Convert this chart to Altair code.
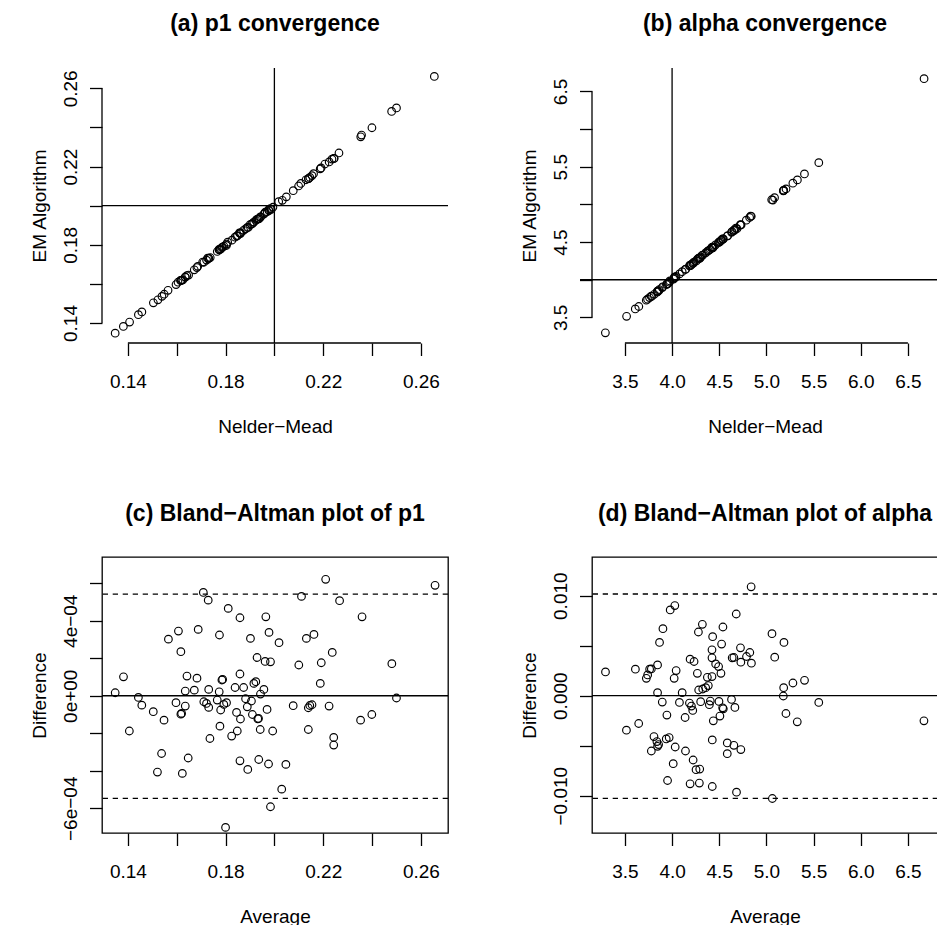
import altair as alt
import pandas as pd

FONT = "Liberation Sans"

# ---------------- data ----------------
# Bland-Altman (c): average and difference of p1 estimates
p1_avg = [0.1348, 0.1382, 0.1406, 0.1443, 0.1457, 0.1504, 0.1538, 0.1521, 0.1548, 0.1566,
          0.1607, 0.1617, 0.1597, 0.1617, 0.1620, 0.1635, 0.1635, 0.1642, 0.1623, 0.1647,
          0.1672, 0.1683, 0.1688, 0.1709, 0.1729, 0.1711, 0.1722, 0.1731, 0.1731, 0.1736,
          0.1766, 0.1774, 0.1775, 0.1777, 0.1780, 0.1785, 0.1788, 0.1793, 0.1804, 0.1811,
          0.1800, 0.1825, 0.1839, 0.1845, 0.1848, 0.1859, 0.1859, 0.1859, 0.1861, 0.1874,
          0.1882, 0.1889, 0.1891, 0.1902, 0.1906, 0.1910, 0.1916, 0.1924, 0.1929, 0.1932,
          0.1935, 0.1936, 0.1942, 0.1943, 0.1957, 0.1962, 0.1965, 0.1970, 0.1976, 0.1978,
          0.1984, 0.1984, 0.1993, 0.2019, 0.2030, 0.2047, 0.2077, 0.2100, 0.2111, 0.2131,
          0.2139, 0.2139, 0.2145, 0.2154, 0.2162, 0.2188, 0.2192, 0.2210, 0.2224, 0.2237,
          0.2243, 0.2243, 0.2267, 0.2353, 0.2359, 0.2399, 0.2481, 0.2500, 0.2658]
p1_diff = [0.16e-4, 1.01e-4, -1.88e-4, -0.09e-4, -0.50e-4, -0.85e-4, -3.08e-4, -4.07e-4, -1.30e-4, 3.02e-4,
           3.45e-4, 2.35e-4, -0.37e-4, -0.98e-4, -0.94e-4, -0.55e-4, 0.25e-4, 1.05e-4, -4.14e-4, -3.32e-4,
           0.30e-4, 0.94e-4, 3.54e-4, 5.51e-4, 5.10e-4, -0.32e-4, -0.41e-4, -0.62e-4, 0.34e-4, -2.28e-4,
           -0.23e-4, 0.21e-4, 3.24e-4, -1.62e-4, -0.76e-4, 0.84e-4, 0.87e-4, -0.46e-4, -0.37e-4, 4.66e-4,
           -7.02e-4, -2.15e-4, 0.44e-4, -0.89e-4, -1.88e-4, 4.16e-4, 1.16e-4, -3.47e-4, -1.24e-4, 0.44e-4,
           -0.16e-4, -0.59e-4, -3.93e-4, 3.06e-4, -0.28e-4, -1.00e-4, 0.66e-4, 0.75e-4, 2.04e-4, -1.23e-4,
           -1.21e-4, -3.40e-4, -1.80e-4, 0.09e-4, 0.34e-4, 1.83e-4, 4.21e-4, -0.73e-4, -3.64e-4, 3.38e-4,
           1.81e-4, -5.92e-4, -1.88e-4, 2.83e-4, -4.98e-4, -3.66e-4, -0.53e-4, 1.64e-4, 5.30e-4, 3.06e-4,
           -0.64e-4, -1.80e-4, -0.52e-4, -0.48e-4, 3.27e-4, 0.66e-4, 1.76e-4, 6.21e-4, -0.55e-4, 2.31e-4,
           -2.22e-4, -2.63e-4, 5.07e-4, -1.30e-4, 4.21e-4, -1.00e-4, 1.71e-4, -0.12e-4, 5.89e-4]

# Bland-Altman (d): average and difference of alpha estimates
alpha_avg = [3.294, 3.516, 3.611, 3.646, 3.727, 3.741, 3.762, 3.780, 3.846, 3.846,
             3.867, 3.896, 3.903, 3.808, 3.780, 3.839, 3.846, 3.857, 3.938, 3.969,
             3.945, 3.980, 4.029, 4.022, 4.043, 4.033, 4.012, 3.952, 4.078, 4.107,
             4.138, 4.142, 4.184, 4.191, 4.191, 4.205, 4.219, 4.223, 4.233, 4.254,
             4.268, 4.279, 4.282, 4.293, 4.289, 4.303, 4.321, 4.325, 4.356, 4.374,
             4.384, 4.395, 4.405, 4.423, 4.426, 4.426, 4.430, 4.423, 4.423, 4.437,
             4.462, 4.493, 4.497, 4.507, 4.518, 4.525, 4.536, 4.539, 4.543, 4.585,
             4.585, 4.630, 4.637, 4.655, 4.666, 4.655, 4.680, 4.683, 4.725, 4.729,
             4.729, 4.789, 4.824, 4.838, 4.841, 5.059, 5.063, 5.088, 5.186, 5.183,
             5.179, 5.207, 5.281, 5.327, 5.404, 5.555, 6.670]
alpha_diff = [2.38e-3, -3.45e-3, 2.65e-3, -2.78e-3, 1.74e-3, 2.08e-3, 2.65e-3, 2.68e-3, 3.08e-3, 0.30e-3,
              5.33e-3, -0.64e-3, 6.70e-3, -4.09e-3, -5.53e-3, -4.59e-3, -5.06e-3, -4.89e-3, -4.32e-3, -4.19e-3,
              -1.94e-3, 8.58e-3, 9.01e-3, 1.74e-3, 2.51e-3, -5.13e-3, -6.80e-3, -8.48e-3, -0.67e-3, 0.30e-3,
              -2.18e-3, -5.53e-3, -0.74e-3, 3.65e-3, -8.81e-3, -1.04e-3, -1.47e-3, -6.43e-3, 3.42e-3, -7.40e-3,
              2.24e-3, 6.37e-3, 0.57e-3, -7.34e-3, -8.74e-3, -0.60e-3, 7.14e-3, 0.67e-3, 0.80e-3, 1.84e-3,
              1.01e-3, -0.90e-3, -0.54e-3, 1.91e-3, -4.42e-3, -9.08e-3, 5.90e-3, 4.59e-3, 3.79e-3, -2.51e-3,
              3.18e-3, 2.91e-3, -0.57e-3, -2.04e-3, 2.24e-3, 5.16e-3, -1.21e-3, 6.87e-3, -1.31e-3, -4.72e-3,
              -5.80e-3, -0.37e-3, 3.79e-3, 3.82e-3, -1.17e-3, -4.96e-3, 8.17e-3, -9.65e-3, 4.79e-3, 3.35e-3,
              -5.39e-3, 3.92e-3, 4.32e-3, 10.89e-3, 3.25e-3, 6.20e-3, -10.28e-3, 3.85e-3, 5.33e-3, 0.80e-3,
              -0.03e-3, -1.78e-3, 1.27e-3, -2.61e-3, 1.54e-3, -0.67e-3, -2.51e-3]

# reference values / limits of agreement
p1_true = 0.20
alpha_true = 4.0
p1_limits = [5.42e-4, -5.47e-4]
alpha_limits = [0.01017, -0.01026]

# axis ticks and labels
p1_ticks = [0.14, 0.16, 0.18, 0.20, 0.22, 0.24, 0.26]
p1_shown = ["0.14", "0.18", "0.22", "0.26"]
alpha_ticks = [3.5, 4.0, 4.5, 5.0, 5.5, 6.0, 6.5]
alpha_y_shown = ["3.5", "4.5", "5.5", "6.5"]
p1_diff_ticks = [-6e-4, -4e-4, -2e-4, 0.0, 2e-4, 4e-4, 6e-4]
alpha_diff_ticks = [-0.010, -0.005, 0.0, 0.005, 0.010]

# scale domains (R style padded ranges)
p1_dom = [0.1294, 0.2711]
p1_em_dom = [0.1298, 0.2704]
alpha_dom = [3.151, 6.819]
alpha_em_dom = [3.160, 6.811]
p1_diff_dom = [-7.32e-4, 7.40e-4]
alpha_diff_dom = [-0.01373, 0.01387]
alpha_hline_start = 3.024

# ---------------- tables ----------------
ba_p1 = pd.DataFrame({"x": p1_avg, "y": p1_diff})
ba_alpha = pd.DataFrame({"x": alpha_avg, "y": alpha_diff})
# convergence plots: Nelder-Mead vs EM, rebuilt from average / difference
conv_p1 = pd.DataFrame({"x": ba_p1.x - ba_p1.y / 2, "y": ba_p1.x + ba_p1.y / 2})
conv_alpha = pd.DataFrame({"x": ba_alpha.x - ba_alpha.y / 2, "y": ba_alpha.x + ba_alpha.y / 2})

W = 346
TICK = 12.5
LW = 1.3


def x_axis(ticks, expr, title):
    return alt.Axis(values=ticks, labelExpr=expr, title=title, domain=False, grid=False,
                    tickSize=TICK, tickWidth=LW, tickColor="black",
                    labelPadding=31.5, labelBaseline="alphabetic", labelAlign="center",
                    labelAngle=0, labelFont=FONT, labelFontSize=19, labelColor="black",
                    labelOverlap=False, labelFlush=False,
                    titleFont=FONT, titleFontSize=19, titleFontWeight="normal",
                    titleColor="black", titleY=89, titleBaseline="alphabetic")


def y_axis(ticks, expr, title, h):
    return alt.Axis(values=ticks, labelExpr=expr, title=title, domain=False, grid=False,
                    tickSize=TICK, tickWidth=LW, tickColor="black",
                    labelPadding=13.5, labelBaseline="alphabetic", labelAlign="center",
                    labelAngle=270, labelFont=FONT, labelFontSize=19, labelColor="black",
                    labelOverlap=False, labelFlush=False,
                    titleFont=FONT, titleFontSize=19, titleFontWeight="normal",
                    titleColor="black", titleAngle=270, titleAlign="center",
                    titleBaseline="alphabetic", titleX=-56.5, titleY=h / 2)


def panel(df, title, xdom, ydom, xticks, yticks, xexpr, yexpr, xtitle, ytitle, h,
          extra, boxed):
    xs = alt.Scale(domain=xdom, nice=False, zero=False)
    ys = alt.Scale(domain=ydom, nice=False, zero=False)
    xe = alt.X("x:Q", scale=xs, axis=x_axis(xticks, xexpr, xtitle))
    ye = alt.Y("y:Q", scale=ys, axis=y_axis(yticks, yexpr, ytitle, h))
    layers = []
    for kind, data, dash in extra:
        base = alt.Chart(pd.DataFrame(data))
        m = dict(color="black", strokeWidth=LW, clip=False)
        if dash:
            m["strokeDash"] = [5.3, 4.7]
        r = base.mark_rule(**m)
        if kind == "h":
            r = r.encode(y=ye)
        elif kind == "v":
            r = r.encode(x=xe)
        elif kind == "hseg":
            r = r.encode(x=xe, x2=alt.X2("x2:Q"), y=ye)
        else:  # vseg
            r = r.encode(y=ye, y2=alt.Y2("y2:Q"), x=xe)
        layers.append(r)
    pts = alt.Chart(df).mark_point(shape="circle", filled=False, size=58, strokeWidth=1.15,
                                   color="black", opacity=1).encode(x=xe, y=ye)
    layers.append(pts)
    view = alt.ViewBackground(stroke="black", strokeWidth=LW) if boxed else \
        alt.ViewBackground(stroke="transparent")
    return alt.layer(*layers).properties(
        width=W, height=h, view=view,
        title=alt.TitleParams(title, font=FONT, fontSize=23, fontWeight="bold",
                              color="black", anchor="middle", frame="group",
                              baseline="alphabetic", offset=13.5))


alpha_x_expr = "format(datum.value, '.1f')"
alpha_y_expr = "indexof(" + str(alpha_y_shown) + ", format(datum.value, '.1f')) >= 0 ? format(datum.value, '.1f') : ''"
p1_fmt_expr = "indexof(" + str(p1_shown) + ", format(datum.value, '.2f')) >= 0 ? format(datum.value, '.2f') : ''"
p1_diff_expr = ("abs(datum.value - 0.0004) < 1e-9 ? '4e\u221204' : abs(datum.value) < 1e-9 ? '0e+00' : "
                "abs(datum.value + 0.0006) < 1e-9 ? '\u22126e\u221204' : ''")
alpha_diff_expr = ("abs(datum.value - 0.01) < 1e-9 ? '0.010' : abs(datum.value) < 1e-9 ? '0.000' : "
                   "abs(datum.value + 0.01) < 1e-9 ? '\u22120.010' : ''")

a = panel(conv_p1, "(a) p1 convergence", p1_dom, p1_em_dom, p1_ticks, p1_ticks,
          p1_fmt_expr, p1_fmt_expr, "Nelder\u2212Mead", "EM Algorithm", 275,
          [("h", {"y": [p1_true]}, False),
           ("v", {"x": [p1_true]}, False),
           ("hseg", {"x": [p1_ticks[0]], "x2": [p1_ticks[-1]], "y": [p1_em_dom[0]]}, False),
           ("vseg", {"y": [p1_ticks[0]], "y2": [p1_ticks[-1]], "x": [p1_dom[0]]}, False)],
          False)

b = panel(conv_alpha, "(b) alpha convergence", alpha_dom, alpha_em_dom, alpha_ticks, alpha_ticks,
          alpha_x_expr, alpha_y_expr, "Nelder\u2212Mead", "EM Algorithm", 275,
          [("hseg", {"x": [alpha_hline_start], "x2": [alpha_dom[1]], "y": [alpha_true]}, False),
           ("v", {"x": [alpha_true]}, False),
           ("hseg", {"x": [alpha_ticks[0]], "x2": [alpha_ticks[-1]], "y": [alpha_em_dom[0]]}, False),
           ("vseg", {"y": [alpha_ticks[0]], "y2": [alpha_ticks[-1]], "x": [alpha_dom[0]]}, False)],
          False)

c = panel(ba_p1, "(c) Bland\u2212Altman plot of p1", p1_dom, p1_diff_dom, p1_ticks, p1_diff_ticks,
          p1_fmt_expr, p1_diff_expr, "Average", "Difference", 276,
          [("h", {"y": [0.0]}, False),
           ("h", {"y": [p1_limits[0]]}, True),
           ("h", {"y": [p1_limits[1]]}, True)],
          True)

d = panel(ba_alpha, "(d) Bland\u2212Altman plot of alpha", alpha_dom, alpha_diff_dom, alpha_ticks,
          alpha_diff_ticks, alpha_x_expr, alpha_diff_expr, "Average", "Difference", 276,
          [("h", {"y": [0.0]}, False),
           ("h", {"y": [alpha_limits[0]]}, True),
           ("h", {"y": [alpha_limits[1]]}, True)],
          True)

chart = alt.concat(a, b, c, d, columns=2, spacing={"row": 214, "column": 144},
                   bounds="flush").properties(
    autosize=alt.AutoSizeParams(type="none"),
    padding={"left": 102, "top": 68, "right": 835, "bottom": 857},
    background="white",
).configure_view(stroke="transparent")

chart.save("out.html", embed_options={"renderer": "svg", "actions": False})
